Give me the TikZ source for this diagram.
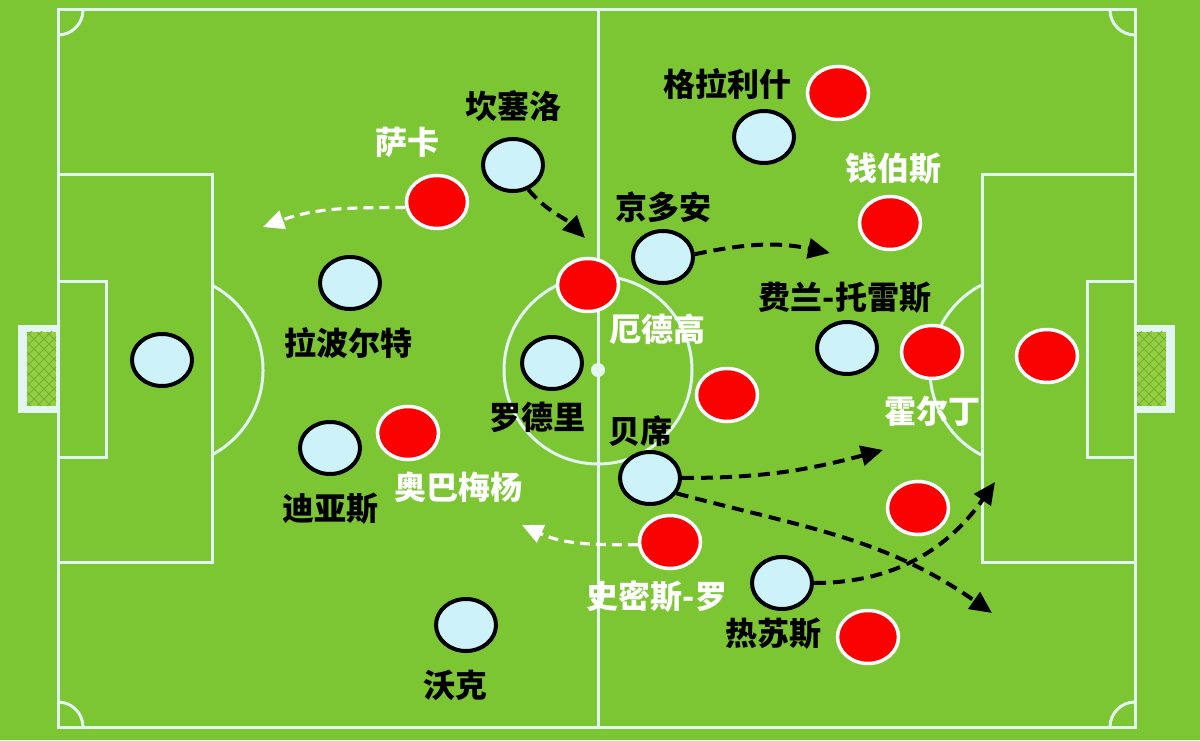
\documentclass[tikz,border=0pt]{standalone}
\usepackage{fontspec}
\usepackage{tikz}
\usetikzlibrary{positioning,shapes.geometric,arrows.meta}
\newfontfamily\cjk{Noto Sans CJK SC}
\definecolor{grass}{RGB}{124,198,52}
\definecolor{chalk}{RGB}{226,246,242}
\definecolor{sky}{RGB}{206,242,250}
\definecolor{arsenal}{RGB}{250,2,2}
\definecolor{netgreen}{RGB}{150,206,66}
\definecolor{mesh}{RGB}{112,176,48}

\tikzset{
  city/.style={ellipse, draw=black, line width=4pt, fill=sky, minimum width=60pt, minimum height=52pt, inner sep=0pt},
  gunner/.style={ellipse, draw=white, line width=3.5pt, fill=arsenal, minimum width=61pt, minimum height=53pt, inner sep=0pt},
  blk/.style={font=\cjk\bfseries\fontsize{32}{32}\selectfont, text=black, inner sep=0pt, text height=28pt, text depth=4pt},
  wht/.style={blk, text=white},
  run/.style={line width=4pt, dash pattern=on 12pt off 7pt, -{Triangle[length=22pt,width=20pt]}},
  runw/.style={line width=3.2pt, white, dash pattern=on 10pt off 6pt, -{Triangle[length=21pt,width=19pt]}},
  chalkline/.style={draw=chalk, line width=3pt},
  meshline/.style={draw=mesh, line width=1pt}
}

\begin{document}
\begin{tikzpicture}[x=1pt,y=1pt]
    \fill[grass] (0,0) rectangle (1200,740);
    \draw[chalkline] (58,13) rectangle (1135,730);
    \draw[chalkline] (598,13) -- (598,730);
    \draw[chalkline] (598,370) circle[radius=94];
    \fill[chalk] (598,370) circle[radius=7];
    \draw[chalkline] (58,178) rectangle (212,565);
    \draw[chalkline] (58,282) rectangle (106,458);
    \draw[chalkline] ([shift={(-62:96)}]167,370) arc[start angle=-62,end angle=62,radius=96];
    \draw[chalkline] (982,178) rectangle (1135,565);
    \draw[chalkline] (1087,282) rectangle (1135,458);
    \draw[chalkline] ([shift={(118:96)}]1026,370) arc[start angle=118,end angle=242,radius=96];
    \draw[chalkline] (83,730) arc[start angle=0,end angle=-90,radius=25];
    \draw[chalkline] (1110,730) arc[start angle=180,end angle=270,radius=25];
    \draw[chalkline] (83,13) arc[start angle=0,end angle=90,radius=25];
    \draw[chalkline] (1110,13) arc[start angle=180,end angle=90,radius=25];

    \fill[chalk] (18,327) rectangle (58,415);
    \fill[netgreen] (27,334) rectangle (56,408);
    \begin{scope}
      \clip (27,334) rectangle (56,408);
      \foreach \k in {-80,-70,...,40}
        {\draw[meshline] (27+\k,334) -- ++(80,80); \draw[meshline] (27+\k,408) -- ++(80,-80);}
    \end{scope}
    \fill[chalk] (1135,327) rectangle (1175,415);
    \fill[netgreen] (1137,334) rectangle (1166,408);
    \begin{scope}
      \clip (1137,334) rectangle (1166,408);
      \foreach \k in {-80,-70,...,40}
        {\draw[meshline] (1137+\k,334) -- ++(80,80); \draw[meshline] (1137+\k,408) -- ++(80,-80);}
    \end{scope}

    \node[city] (b1) at (162,380) {};
    \node[city] (b2) at (350,457) {};
    \node[city] (b3) at (330,292) {};
    \node[city] (b4) at (466,115) {};
    \node[city] (b5) at (552,377) {};
    \node[city] (b6) at (513,575) {};
    \node[city] (b7) at (663,483) {};
    \node[city] (b8) at (650,262) {};
    \node[city] (b9) at (764,603) {};
    \node[city] (b10) at (847,392) {};
    \node[city] (b11) at (782,157) {};

    \node[gunner] (r1) at (437,538) {};
    \node[gunner] (r2) at (588,455) {};
    \node[gunner] (r3) at (408,307) {};
    \node[gunner] (r4) at (727,345) {};
    \node[gunner] (r5) at (670,198) {};
    \node[gunner] (r6) at (838,647) {};
    \node[gunner] (r7) at (890,517) {};
    \node[gunner] (r8) at (932,388) {};
    \node[gunner] (r9) at (1047,384) {};
    \node[gunner] (r10) at (918,232) {};
    \node[gunner] (r11) at (868,103) {};

    \node[blk, below=16pt of b2, xshift=-2pt] (n2) {拉波尔特};
    \node[blk, below=16pt of b3] (n3) {迪亚斯};
    \node[blk, below=16pt of b4, xshift=-11pt] (n4) {沃克};
    \node[blk, below=10pt of b5, xshift=-15pt] (n5) {罗德里};
    \node[blk, above=14.5pt of b6] (n6) {坎塞洛};
    \node[blk, above=5.5pt of b7] (n7) {京多安};
    \node[blk, above=2pt of b8, xshift=-10pt] (n8) {贝席};
    \node[blk, above=8pt of b9, xshift=-37pt] (n9) {格拉利什};
    \node[blk, above=6pt of b10, xshift=-2pt] (n10) {费兰-托雷斯};
    \node[blk, below=6pt of b11, xshift=-9pt] (n11) {热苏斯};

    \node[wht, above=15.5pt of r1, xshift=-30pt] (m1) {萨卡};
    \node[wht, below=0pt of r2, xshift=69pt] (m2) {厄德高};
    \node[wht, below=10.5pt of r3, xshift=50pt] (m3) {奥巴梅杨};
    \node[wht, below=10.5pt of r5, xshift=-13pt] (m5) {史密斯-罗};
    \node[wht, above=10.5pt of r7, xshift=3pt] (m7) {钱伯斯};
    \node[wht, below=15.5pt of r8] (m8) {霍尔丁};

    \coordinate (e1) at (263,513);
    \coordinate (e2) at (522,215);
    \coordinate (e3) at (585,502);
    \coordinate (e4) at (830,487);
    \coordinate (e5) at (883,290);
    \coordinate (e6) at (992,127);
    \coordinate (e7) at (995,258);

    \draw[runw] (r1.190) to[out=180,in=20] (e1);
    \draw[runw] (r5.185) to[out=180,in=-25] (e2);
    \draw[run] (b6.-58) to[out=-50,in=135] (e3);
    \draw[run] (b7.5) to[out=12,in=168] (e4);
    \draw[run] (b8.0) to[out=0,in=195] (e5);
    \draw[run] (b8.-30) to[out=-15,in=145] (e6);
    \draw[run] (b11.0) to[out=0,in=235] (e7);
\end{tikzpicture}
\end{document}
